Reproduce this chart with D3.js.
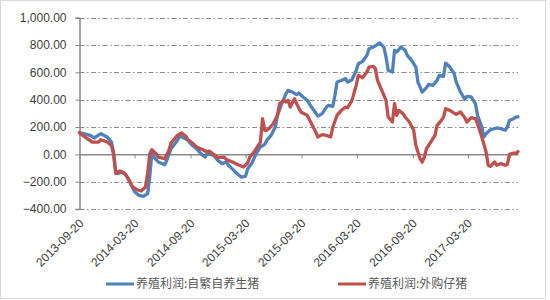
<!DOCTYPE html>
<html>
<head>
<meta charset="utf-8">
<script src="https://cdnjs.cloudflare.com/ajax/libs/d3/7.8.5/d3.min.js"></script>
<style>
  body { margin: 0; background: #fff; }
  svg text { font-family: "Liberation Sans", Arial, sans-serif; fill: #404040; }
  .legend text { font-family: "Noto Sans CJK SC", sans-serif; fill: #595959; }
</style>
</head>
<body>
<div id="chart"></div>
<script>
// weeks counted from 2013-09-20
var startDate = "2013-09-20";
var lastWeek = 206;

var seriesNames = ["养殖利润:自繁自养生猪", "养殖利润:外购仔猪"];
var seriesColors = ["#4F81BD", "#C0504D"];

var tickLabels = ["2013-09-20", "2014-03-20", "2014-09-20", "2015-03-20",
                  "2015-09-20", "2016-03-20", "2016-09-20", "2017-03-20"];
var yTicks = [-400, -200, 0, 200, 400, 600, 800, 1000];

var blueWeeks = [0,5,7,10,13,15,16,17,18,20,22,24,26,28,30,32,33,34,35,37,40,41,43,46,47,49,51,53,55,57,59,60,63,65,67,69,70,72,74,76,78,79,81,83,85,87,88,90,92,93,95,97,98,100,102,103,105,107,109,111,112,114,116,117,119,120,121,123,125,126,128,130,131,133,135,136,138,140,141,143,144,145,147,148,149,151,153,154,156,158,159,161,163,164,166,168,169,171,172,174,176,177,179,181,182,184,186,187,189,190,191,193,195,196,198,200,201,202,204,205,206];
var blueValues = [159,139,120,151,127,90,17,-117,-141,-129,-154,-215,-276,-300,-307,-288,-166,17,-20,-56,-76,-44,41,102,134,120,102,66,41,5,-20,5,-7,-44,-68,-56,-80,-110,-141,-166,-161,-105,-63,5,54,73,102,139,200,285,371,444,468,456,437,449,420,395,346,302,280,298,346,359,351,432,529,541,554,529,546,615,663,680,724,773,785,805,815,785,712,615,602,761,749,785,761,724,688,639,529,456,488,512,505,541,578,571,668,639,590,529,456,402,424,420,371,285,200,127,151,180,188,193,188,176,200,249,261,273,275];

var redWeeks = [0,3,6,9,10,13,15,16,17,19,21,23,25,27,29,31,32,33,34,36,37,40,42,43,46,48,50,51,53,55,58,60,61,63,65,68,69,72,74,77,79,80,82,84,85,86,87,88,89,91,93,94,96,97,98,99,101,102,104,107,109,111,112,114,116,118,119,121,123,125,126,128,130,131,133,135,136,138,139,140,142,144,145,147,148,149,150,152,153,155,157,158,160,161,162,163,165,167,168,170,171,172,174,176,177,179,181,182,184,186,187,189,191,192,193,195,196,198,200,201,202,204,205,206];
var redValues = [159,122,90,90,107,90,66,0,-141,-122,-137,-178,-239,-259,-268,-239,-141,5,34,5,-20,-32,29,83,139,156,132,107,83,54,34,17,24,0,-24,-20,-39,-56,-73,-93,-63,-20,17,66,90,261,176,176,188,224,285,371,395,383,395,346,407,371,310,285,224,163,127,144,139,127,200,285,322,346,341,395,505,578,561,602,639,644,627,541,468,395,273,237,371,285,322,298,273,237,176,66,-32,-56,-20,41,90,139,212,249,273,334,322,302,293,310,268,237,268,261,224,127,17,-80,-88,-56,-80,-68,-80,-73,0,10,5,20];

function draw_chart(element) {
    var parse = d3.timeParse("%Y-%m-%d");
    var t0 = parse(startDate);
    var weekDate = function (w) { return d3.timeDay.offset(t0, w * 7); };

    var svg = d3.select("#" + element).append("svg").attr("width", 550).attr("height", 300);

    svg.append("rect")
        .attr("x", 0.5).attr("y", 0.5)
        .attr("width", 545).attr("height", 298)
        .attr("fill", "#fff").attr("stroke", "#d9d9d9");

    var left = 79.5, right = 518, top = 17.7, bottom = 209;

    var x = d3.scaleTime().domain([t0, weekDate(lastWeek)]).range([left, right]);
    var y = d3.scaleLinear().domain([-400, 1000]).range([bottom, top]);

    // gridlines, dash-dot
    svg.append("g").selectAll("line")
        .data(yTicks.filter(function (d) { return d !== 0; }))
        .enter().append("line")
        .attr("x1", left).attr("x2", right)
        .attr("y1", function (d) { return Math.round(y(d)) + 0.5; })
        .attr("y2", function (d) { return Math.round(y(d)) + 0.5; })
        .attr("stroke", "#8c8c8c")
        .attr("stroke-width", 1.2)
        .attr("stroke-dasharray", "5,2.5,1.5,2.5");

    // y axis
    var yAxis = svg.append("g")
        .attr("transform", "translate(" + left + ",0)")
        .call(d3.axisLeft(y).tickValues(yTicks).tickSize(4).tickPadding(9)
            .tickFormat(d3.format(",.2f")));
    yAxis.select(".domain").attr("stroke", "#898989").attr("stroke-width", 1.5);
    yAxis.selectAll(".tick line").attr("stroke", "#898989");
    yAxis.selectAll("text").style("font-size", "12px").attr("fill", "#404040");

    // x axis on zero line
    var tickDates = tickLabels.map(parse);
    var xAxis = svg.append("g")
        .attr("transform", "translate(0," + y(0) + ")")
        .call(d3.axisBottom(x).tickValues(tickDates).tickSize(4).tickSizeOuter(0).tickFormat(""));
    xAxis.select(".domain").attr("stroke", "#898989").attr("stroke-width", 1.5);
    xAxis.selectAll(".tick line").attr("stroke", "#898989");

    // rotated date labels under the plot
    svg.append("g").selectAll("text")
        .data(tickLabels)
        .enter().append("text")
        .attr("transform", function (d) {
            return "translate(" + (x(parse(d)) + 2) + "," + (bottom + 12) + ") rotate(-45)";
        })
        .attr("text-anchor", "end")
        .attr("dy", "0.35em")
        .style("font-size", "12px")
        .text(function (d) { return d; });

    var line = d3.line()
        .x(function (d) { return x(weekDate(d[0])); })
        .y(function (d) { return y(d[1]); });

    var series = [d3.zip(blueWeeks, blueValues), d3.zip(redWeeks, redValues)];
    series.forEach(function (s, i) {
        svg.append("path")
            .datum(s)
            .attr("fill", "none")
            .attr("stroke", seriesColors[i])
            .attr("stroke-width", 3.3)
            .attr("stroke-linejoin", "round")
            .attr("stroke-linecap", "round")
            .attr("d", line);
    });

    // legend
    var legX = [106, 338];
    var leg = svg.append("g").attr("class", "legend");
    seriesNames.forEach(function (name, i) {
        leg.append("line")
            .attr("x1", legX[i]).attr("x2", legX[i] + 28)
            .attr("y1", 284).attr("y2", 284)
            .attr("stroke", seriesColors[i]).attr("stroke-width", 3);
        leg.append("text")
            .attr("x", legX[i] + 30).attr("y", 284)
            .attr("dy", "0.35em")
            .style("font-size", "12px")
            .text(name);
    });
}

draw_chart("chart");
</script>
</body>
</html>
